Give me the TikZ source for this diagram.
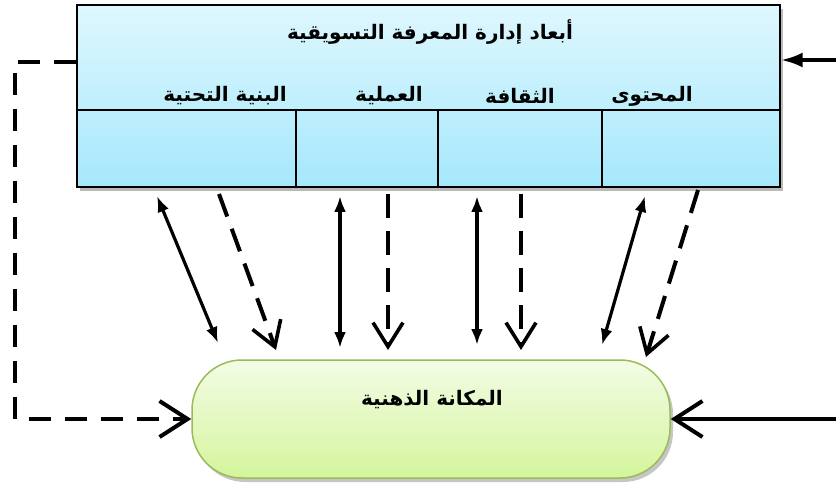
\documentclass[tikz,border=0pt]{standalone}
\usepackage{fontspec}
\newfontfamily\arabicfont[Script=Arabic]{DejaVu Sans}
\TeXXeTstate=1
\usetikzlibrary{arrows.meta}
\definecolor{boxtop}{HTML}{DFF7FE}
\definecolor{boxbot}{HTML}{A5E8FB}
\definecolor{rtop}{HTML}{F3FCE6}
\definecolor{rbot}{HTML}{D4F59C}
\definecolor{rborder}{HTML}{9BBB59}
\begin{document}
\begin{tikzpicture}[x=1pt,y=-1pt,
  topbox/.style={draw=black,line width=1.3pt,top color=boxtop,bottom color=boxbot,minimum width=703pt,minimum height=182pt,inner sep=0pt},
  roundbox/.style={draw=rborder,line width=1.5pt,top color=rtop,bottom color=rbot,rounded corners=50pt,minimum width=478pt,minimum height=118pt,inner sep=0pt},
  lbl/.style={font=\arabicfont\bfseries\fontsize{20}{22}\selectfont,inner sep=0pt},
  solidarr/.style={line width=3.2pt,{Latex[length=16pt,width=12pt]}-{Latex[length=16pt,width=12pt]}},
  dasharr/.style={line width=4pt,dash pattern=on 24pt off 13pt,-{Straight Barb[length=24pt,width=30pt,line width=3.6pt]}},
  sidechev/.style={-{Straight Barb[length=28pt,width=36pt,line width=4pt]}}
]
\useasboundingbox (0,0) rectangle (836,484);
% shadows
\fill[gray!55] (80,9) rectangle (783,191);
\fill[gray!45,rounded corners=50pt] (195,364) rectangle (673,482);
% boxes
\node[topbox] (top) at (428.5,96) {};
\node[roundbox] (mind) at (431,419) {};
\draw[line width=1.1pt] (77,110) -- (780,110);
\draw[line width=1.1pt] (296,110) -- (296,187);
\draw[line width=1.1pt] (438,110) -- (438,187);
\draw[line width=1.1pt] (602,110) -- (602,187);
% texts
\node[lbl] (title) at (430,32) {\beginR أبعاد إدارة المعرفة التسويقية\endR};
\node[lbl] (l1) at (225,96) {\beginR البنية التحتية\endR};
\node[lbl] (l2) at (389,96) {\beginR العملية\endR};
\node[lbl] (l3) at (520,96) {\beginR الثقافة\endR};
\node[lbl] (l4) at (652,96) {\beginR المحتوى\endR};
\node[lbl] (mt) at (432,400) {\beginR المكانة الذهنية\endR};
% outer connectors
\coordinate (rin) at (836,60);
\draw[line width=4pt,-{Latex[length=22pt,width=15pt]}] (rin) -- (rin -| top.east);
\coordinate (lt) at (15,62);
\draw[line width=4.5pt,dash pattern=on 22pt off 14pt,sidechev] (lt -| top.west) -- (lt) |- (mind.west);
\coordinate (rb) at (836,419);
\draw[line width=4pt,sidechev] (rb) -- (mind.east);
% inner connectors
\coordinate (a1) at (157,196); \coordinate (b1) at (218,343);
\coordinate (a2) at (219,194); \coordinate (b2) at (276,350);
\coordinate (a3) at (340,196); \coordinate (b3) at (340,348);
\coordinate (a4) at (388,194); \coordinate (b4) at (388,350);
\coordinate (a5) at (477,196); \coordinate (b5) at (477,345);
\coordinate (a6) at (521,194); \coordinate (b6) at (521,350);
\coordinate (a7) at (645,196); \coordinate (b7) at (602,345);
\coordinate (a8) at (698,190); \coordinate (b8) at (646,357);
\draw[solidarr] (a1) -- (b1);
\draw[solidarr] (a3) -- (b3);
\draw[solidarr] (a5) -- (b5);
\draw[solidarr] (a7) -- (b7);
\draw[dasharr] (a2) -- (b2);
\draw[dasharr] (a4) -- (b4);
\draw[dasharr] (a6) -- (b6);
\draw[dasharr] (a8) -- (b8);
\end{tikzpicture}
\end{document}
